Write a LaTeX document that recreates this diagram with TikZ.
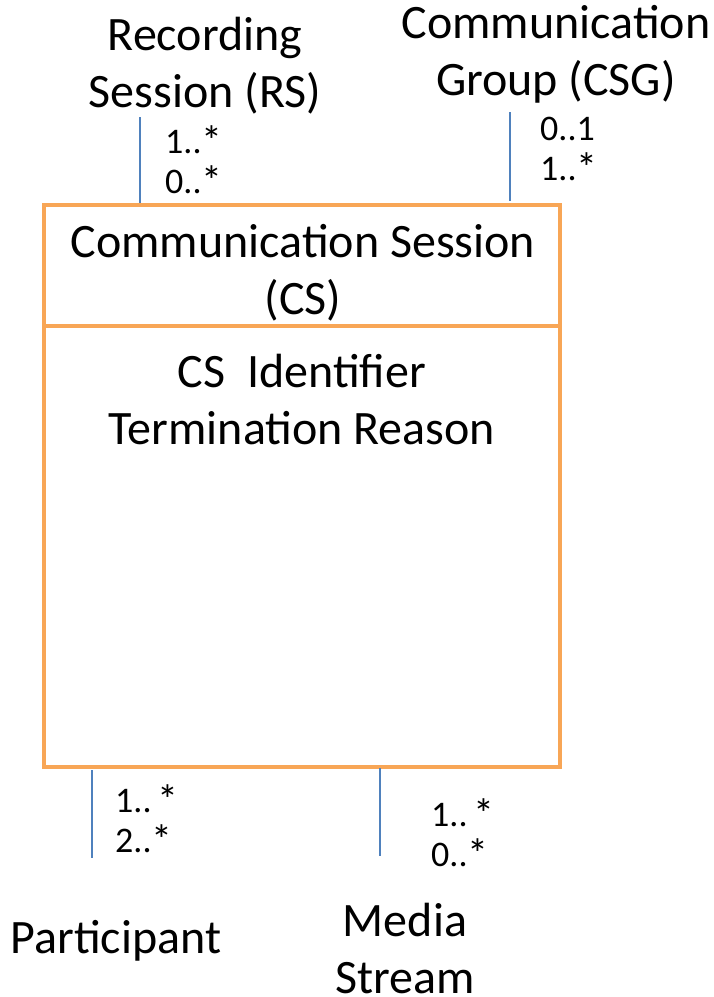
\documentclass[tikz,border=0pt]{standalone}
\usepackage{fontspec}
\setmainfont{Carlito}
\definecolor{boxorange}{RGB}{248,166,86}
\definecolor{linkblue}{RGB}{79,129,189}
\newcommand{\mystar}{\smash{\raisebox{-2pt}{\fontsize{42}{40}\selectfont *}}}
\begin{document}
\begin{tikzpicture}[x=1pt,y=-1pt,
  big/.style={font=\fontsize{48}{57}\selectfont, align=center, inner sep=0pt},
  mult/.style={font=\fontsize{36}{40}\selectfont, align=left, inner sep=0pt, anchor=west},
  link/.style={draw=linkblue, line width=1.4pt},
  classbox/.style={draw=boxorange, line width=4pt}]
\useasboundingbox (0,0) rectangle (714,997);
% class box
\draw[classbox] (44,205) rectangle (560,767);
\draw[classbox] (44,326) -- (560,326);
\node[big] (cs) at (303,273) {Communication Session\\(CS)};
\node[big] (attr) at (302,400) {CS\ \ Identifier\\Termination Reason};
% outside classes
\node[big] (rs) at (205,66) {Recording\\Session (RS)};
\node[big] (csg) at (556,54) {Communication\\Group (CSG)};
\node[big] (part) at (116,941) {Participant};
\node[big] (ms) at (405,948) {Media\\Stream};
% connector ends
\coordinate (rsA) at (140,117);
\coordinate (rsB) at (140,203);
\coordinate (csgA) at (510,112);
\coordinate (csgB) at (510,201);
\coordinate (ptA) at (92,770);
\coordinate (ptB) at (92,858);
\coordinate (msA) at (380,768);
\coordinate (msB) at (380,856);
\draw[link] (rsA) -- (rsB);
\draw[link] (csgA) -- (csgB);
\draw[link] (ptA) -- (ptB);
\draw[link] (msA) -- (msB);
% multiplicities
\node[mult] (m1) at (165,162) {1..\mystar\\0..\mystar};
\node[mult] (m2) at (540,149) {0..1\\1..\mystar};
\node[mult] (m3) at (115,821) {1..\,\mystar\\2..\mystar};
\node[mult] (m4) at (431,835) {1..\,\mystar\\0..\mystar};
\end{tikzpicture}
\end{document}
